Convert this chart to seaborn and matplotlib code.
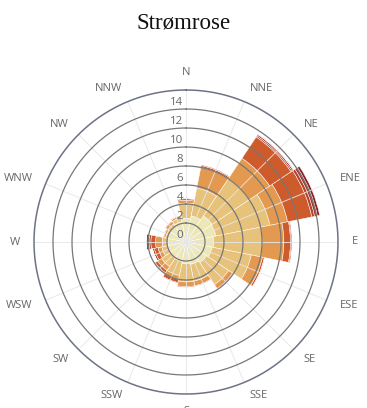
import numpy as np
import matplotlib
matplotlib.use("Agg")
import matplotlib.pyplot as plt
import seaborn as sns

# ---- data -------------------------------------------------------------
directions = ["N", "NNE", "NE", "ENE", "E", "ESE", "SE", "SSE",
              "S", "SSW", "SW", "WSW", "W", "WNW", "NW", "NNW"]

# per-series values (stacked, innermost first)
s1 = [2.5, 2.8, 3.3, 3.2, 2.9, 2.8, 2.6, 2.4, 2.3, 2.1, 2.0, 1.9, 1.9, 1.9, 2.0, 2.2]
s2 = [1.6, 3.0, 4.7, 5.8, 5.1, 4.2, 2.8, 1.8, 1.9, 1.5, 1.1, 0.7, 0.6, 0.3, 0.3, 0.4]
s3 = [0.3, 2.2, 2.6, 1.9, 2.3, 1.2, 0.5, 0.5, 0.5, 0.4, 0.5, 0.4, 0.7, 0.2, 0.3, 0.2]
s4 = [0.15, 0.2, 2.7, 2.6, 0.7, 0.2, 0.1, 0.1, 0.1, 0.35, 0.3, 0.4, 0.5, 0.1, 0.1, 0.1]
s5 = [0.05, 0.1, 0.15, 0.3, 0.1, 0.05, 0.0, 0.0, 0.05, 0.1, 0.1, 0.2, 0.2, 0.0, 0.0, 0.0]
s6 = [0.05, 0.05, 0.15, 0.3, 0.1, 0.05, 0.0, 0.0, 0.0, 0.0, 0.0, 0.0, 0.3, 0.0, 0.0, 0.0]
s7 = [0.0, 0.0, 0.05, 0.25, 0.0, 0.0, 0.0, 0.0, 0.0, 0.0, 0.0, 0.0, 0.0, 0.0, 0.0, 0.0]
series = [s1, s2, s3, s4, s5, s6, s7]

radial_ticks = [0, 2, 4, 6, 8, 10, 12, 14]
r_max = 16

colors = ["#ede7b1", "#e7c27a", "#e3994f", "#cd5b2c", "#b8432b", "#a23126", "#8a2424"]

# ---- plot -------------------------------------------------------------
sns.set_theme(style="white")
plt.rcParams["font.family"] = ["DejaVu Sans"]

W, H = 367, 408
fig = plt.figure(figsize=(W / 100, H / 100), dpi=100)
cx, cy, rad = 186, 242, 152
ax = fig.add_axes([(cx - rad) / W, (H - cy - rad) / H, 2 * rad / W, 2 * rad / H],
                  projection="polar")
ax.set_theta_zero_location("N")
ax.set_theta_direction(-1)
ax.set_ylim(0, r_max)
ax.grid(False)
ax.set_xticks([])
ax.set_yticks([])
ax.spines["polar"].set_visible(False)
ax.set_facecolor("white")

n = len(directions)
theta = np.arange(n) * 2 * np.pi / n
width = 2 * np.pi / n

bottom = np.zeros(n)
for vals, col in zip(series, colors):
    vals = np.asarray(vals, dtype=float)
    ax.bar(theta, vals, width=width, bottom=bottom, color=col,
           edgecolor="white", linewidth=0.35, zorder=2)
    bottom += vals

# radial grid lines on top
for th in theta:
    ax.plot([th, th], [0, r_max], color="#e6e6e6", lw=0.7, alpha=0.9, zorder=3)

# circles
circ = np.linspace(0, 2 * np.pi, 500)
for r in radial_ticks[1:]:
    ax.plot(circ, np.full_like(circ, r), color="#777777", lw=0.9, zorder=4)
ax.plot(circ, np.full_like(circ, r_max), color="#6d7385", lw=1.1, zorder=4,
        clip_on=False)

# radial labels along N axis
for r in radial_ticks:
    ax.annotate(str(r), xy=(0, r), xytext=(-2.2, 1.0), textcoords="offset points",
                ha="right", va="bottom", fontsize=8.2, color="#666666",
                family=["Open Sans", "DejaVu Sans"], zorder=6)

# direction labels
lab_r = r_max + 1.5
for th, name in zip(theta, directions):
    s, c = np.sin(th), np.cos(th)
    if abs(s) < 0.1:
        ha = "center"
        va = "bottom" if c > 0 else "top"
        rr = r_max + 1.3
    else:
        ha = "left" if s > 0 else "right"
        va = "center"
        rr = lab_r
    ax.text(th, rr, name, ha=ha, va=va, fontsize=8, color="#666666",
            family=["Open Sans", "DejaVu Sans"], clip_on=False)

fig.text(0.5, 1 - 23 / H, "Strømrose", ha="center", va="center",
         fontsize=16.5, color="#111111", family=["Liberation Serif", "DejaVu Serif"])

fig.savefig("out.png", dpi=100, facecolor="white")
